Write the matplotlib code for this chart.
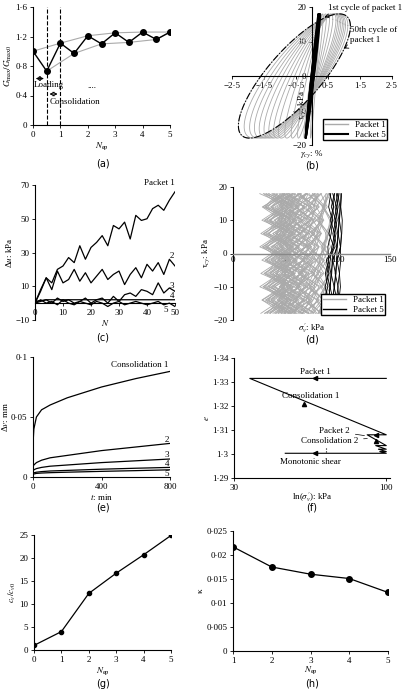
import numpy as np
import matplotlib.pyplot as plt
from matplotlib.ticker import FuncFormatter, FixedLocator, NullLocator

plt.rcParams['font.family'] = ['Liberation Serif', 'DejaVu Serif']
plt.rcParams['font.size'] = 6.5
plt.rcParams['mathtext.fontset'] = 'stix'

# (a) stiffness ratio
a_nep = [0, 0.5, 1, 1.5, 2, 2.5, 3, 3.5, 4, 4.5, 5]
a_g = [1.0, 0.73, 1.11, 0.97, 1.21, 1.10, 1.25, 1.12, 1.26, 1.16, 1.26]
a_up_n = [0, 1, 2, 3, 4, 5]
a_up = [1.0, 1.11, 1.21, 1.25, 1.26, 1.26]
a_lo_n = [0.5, 1.5, 2.5, 3.5, 4.5, 5]
a_lo = [0.73, 0.97, 1.10, 1.12, 1.16, 1.26]

# (b) loop parameters per cycle: centre strain, half width, phase
b1_c = [0.10, 0.05, 0.0, -0.05, -0.1, -0.15, -0.2, -0.25, -0.3, -0.35, -0.4, -0.45, -0.5, -0.55]
b1_a = [0.15, 0.3, 0.45, 0.6, 0.75, 0.9, 1.0, 1.1, 1.2, 1.3, 1.4, 1.5, 1.62, 1.75]
b1_p = [0.25, 0.3, 0.34, 0.38, 0.42, 0.45, 0.48, 0.51, 0.54, 0.56, 0.58, 0.6, 0.62, 0.64]
b5_c = [0.0, 0.01, 0.02, 0.03]
b5_a = [0.2, 0.21, 0.22, 0.23]
b5_p = [0.12, 0.14, 0.16, 0.18]

# (c) excess pore pressure
c_n = [0, 2, 4, 6, 8, 10, 12, 14, 16, 18, 20, 22, 24, 26, 28, 30, 32, 34, 36, 38, 40, 42, 44, 46, 48, 50]
c_p1 = [0, 8, 15, 12, 20, 22, 27, 24, 34, 26, 33, 36, 40, 34, 46, 44, 48, 38, 52, 49, 50, 56, 58, 55, 61, 66]
c_p2 = [0, 7, 15, 8, 19, 12, 14, 20, 13, 18, 12, 16, 20, 14, 17, 19, 11, 17, 21, 15, 23, 19, 24, 17, 26, 22]
c_p3 = [0, 1, 2, 0, 3, 1, 2, 0, 1, 3, 0, 2, 3, 0, 4, 1, 5, 6, 4, 8, 7, 5, 12, 6, 9, 7]
c_p4 = [1, 1.5, 2, 2, 2, 2, 2, 2, 2, 2, 2, 2, 2, 2, 2, 2, 2, 2, 2, 2, 2, 2, 2, 2, 2, 2]
c_p5 = [0, 2, 0, 1, -1, 2, 0, -1, 1, 0, -1, 1, 0, -2, 0, 1, -1, 0, 1, 0, -1, 0, 1, -1, 0, -2]

# (d) per cycle mean effective stress and spread
d1_s = [90, 86, 82, 79, 76, 73, 70, 67, 65, 62, 60, 58, 56, 54, 52, 50, 48, 46, 45, 44, 43, 42, 41, 40]
d1_w = [8, 10, 12, 14, 16, 18, 20, 20, 22, 22, 24, 24, 24, 24, 24, 24, 24, 24, 24, 24, 24, 24, 24, 24]
d5_s = [104, 103, 102, 101, 100, 99, 98, 97, 96, 95, 94]
d5_w = [4, 5, 6, 6, 7, 8, 8, 9, 9, 10, 10]
d_tau = [-18, -14, -10, -6, -2, 2, 6, 10, 14, 18]
d_off = [0.3, -0.5, 0.4, -0.2, 0.6, -0.6, 0.2, 0.5, -0.4, 0.1]

# (e) volume change during consolidation
e_t = [0, 1, 5, 20, 50, 100, 200, 400, 600, 800]
e_c1 = [0, 0.03, 0.04, 0.05, 0.056, 0.06, 0.066, 0.075, 0.082, 0.088]
e_c2 = [0, 0.009, 0.01, 0.012, 0.014, 0.016, 0.018, 0.022, 0.025, 0.028]
e_c3 = [0, 0.005, 0.006, 0.007, 0.008, 0.009, 0.010, 0.012, 0.0135, 0.015]
e_c4 = [0, 0.003, 0.0035, 0.004, 0.0045, 0.005, 0.0055, 0.0065, 0.0073, 0.008]
e_c5 = [0, 0.002, 0.0025, 0.003, 0.0033, 0.0036, 0.004, 0.0047, 0.0053, 0.006]

# (f) void ratio path
f_s = [100, 34, 100, 86, 100, 92, 100, 94, 100, 95, 100, 45]
f_e = [1.3315, 1.3315, 1.308, 1.308, 1.3035, 1.3035, 1.302, 1.302, 1.301, 1.301, 1.3003, 1.3003]

# (g), (h)
g_n = [0, 1, 2, 3, 4, 5]
g_cv = [1, 4, 12.3, 16.7, 20.7, 24.9]
h_n = [1, 2, 3, 4, 5]
h_k = [0.0217, 0.0175, 0.016, 0.0151, 0.0122]

W, H = 403, 694
fig = plt.figure(figsize=(W / 100, H / 100), dpi=100)


def box(l, r, t, b):
    return fig.add_axes([l / W, 1 - b / H, (r - l) / W, (b - t) / H])


def dot(v, p):
    return ('%g' % v).replace('.', '·').replace('-', '−')


fmt = FuncFormatter(dot)


def style(ax):
    for s in ['top', 'right']:
        ax.spines[s].set_visible(False)
    ax.tick_params(length=2, width=0.6, pad=2)
    ax.xaxis.set_major_formatter(fmt)
    ax.yaxis.set_major_formatter(fmt)


def loop(ax, c, a, p, col, lw, ls='-'):
    t = np.linspace(0, 2 * np.pi, 120)
    ax.plot(c + a * np.cos(t), 18 * np.cos(t - p), color=col, lw=lw, ls=ls)


# (a)
ax = box(33, 170, 7, 125)
style(ax)
ax.plot(a_up_n, a_up, color='#aaaaaa', lw=0.8)
ax.plot(a_lo_n, a_lo, color='#aaaaaa', lw=0.8)
ax.plot(a_nep, a_g, 'k-o', ms=4, lw=1)
ax.axvline(0.5, color='k', ls='--', lw=0.8)
ax.axvline(1, color='k', ls='--', lw=0.8)
ax.annotate('', (0, 0.63), (0.5, 0.63), arrowprops=dict(arrowstyle='<->', lw=0.7))
ax.annotate('', (0.5, 0.42), (1, 0.42), arrowprops=dict(arrowstyle='<->', lw=0.7))
ax.text(0.03, 0.52, 'Loading', fontsize=6.5)
ax.text(0.6, 0.28, 'Consolidation', fontsize=6.5)
ax.text(2, 0.5, '....', fontsize=6.5)
ax.set_xlim(0, 5)
ax.set_ylim(0, 1.6)
ax.set_xticks([0, 1, 2, 3, 4, 5])
ax.set_yticks([0, 0.4, 0.8, 1.2, 1.6])
ax.set_xlabel('$N_{\\rm ep}$', labelpad=1)
ax.set_ylabel('$G_{\\rm max}/G_{\\rm max0}$', labelpad=1)

# (b)
ax = box(232, 392, 7, 145)
style(ax)
ax.spines['left'].set_position(('data', 0))
ax.spines['bottom'].set_position(('data', 0))
for c, a, p in zip(b1_c, b1_a, b1_p):
    loop(ax, c, a, p, '#aaaaaa', 0.6)
loop(ax, b1_c[-1], b1_a[-1], b1_p[-1], 'k', 0.8, '-.')
for c, a, p in zip(b5_c, b5_a, b5_p):
    loop(ax, c, a, p, 'k', 1.2)
ax.plot([], [], color='#aaaaaa', lw=1, label='Packet 1')
ax.plot([], [], color='k', lw=1.5, label='Packet 5')
ax.legend(loc='lower right', fontsize=6.5, handlelength=2.5, borderpad=0.2, labelspacing=0.1,
          fancybox=False, edgecolor='k', framealpha=1)
ax.annotate('1st cycle of packet 1', (0.3, 17), (0.5, 19), fontsize=6.5,
            arrowprops=dict(arrowstyle='->', lw=0.6))
ax.annotate('50th cycle of\npacket 1', (1.0, 8), (1.2, 10), fontsize=6.5,
            arrowprops=dict(arrowstyle='->', lw=0.6))
ax.set_xlim(-2.5, 2.5)
ax.set_ylim(-20, 20)
ax.set_xticks([-2.5, -1.5, -0.5, 0.5, 1.5, 2.5])
ax.set_yticks([-20, -10, 0, 10, 20])
ax.text(-0.3, -4, 'τ$_{cy}$: kPa', rotation=90, fontsize=6.5, ha='center', va='top')
ax.text(0, -21, '$\\gamma_{cy}$: %', ha='center', va='top', fontsize=6.5)

# (c)
ax = box(35, 175, 185, 320)
style(ax)
ax.spines['bottom'].set_position(('data', 0))
for y in [c_p1, c_p2, c_p3, c_p4, c_p5]:
    ax.plot(c_n, y, color='k', lw=0.9)
ax.text(50, 69, 'Packet 1', ha='right', va='bottom', fontsize=6.5)
ax.text(48, 27, '2', fontsize=6.5)
ax.text(48, 9, '3', fontsize=6.5)
ax.text(48, 3, '4', fontsize=6.5)
ax.text(46, -5, '5', fontsize=6.5)
ax.set_xlim(0, 50)
ax.set_ylim(-10, 70)
ax.set_xticks([0, 10, 20, 30, 40, 50])
ax.set_yticks([-10, 10, 30, 50, 70])
ax.set_xlabel('$N$', labelpad=1)
ax.set_ylabel('Δ$u$: kPa', labelpad=1)

# (d)
ax = box(233, 390, 187, 320)
style(ax)
ax.spines['bottom'].set_position(('data', 0))
ax.spines['bottom'].set_color('#888888')
ax.spines['bottom'].set_linewidth(1)
for i, (s, w) in enumerate(zip(d1_s, d1_w)):
    for k in (0, 3, 7):
        off = d_off[(i + k) % 10:] + d_off[:(i + k) % 10]
        ax.plot([s + w * o for o in off], d_tau, color='#aaaaaa', lw=0.6)
for i, (s, w) in enumerate(zip(d5_s, d5_w)):
    off = d_off[i % 10:] + d_off[:i % 10]
    ax.plot([s + w * 0.4 * o - w * (0.5 if t < 0 else 0.1) for o, t in zip(off, d_tau)], d_tau,
            color='k', lw=0.6)
ax.plot([], [], color='#aaaaaa', lw=1, label='Packet 1')
ax.plot([], [], color='k', lw=1, label='Packet 5')
ax.legend(loc='lower right', fontsize=6.5, handlelength=2.5, borderpad=0.2, labelspacing=0.1,
          fancybox=False, edgecolor='k', framealpha=1)
ax.set_xlim(0, 150)
ax.set_ylim(-20, 20)
ax.set_xticks([0, 50, 100, 150])
ax.set_yticks([-20, -10, 0, 10, 20])
ax.tick_params(axis='x', length=0)
ax.text(75, -20.3, "$\\sigma_v'$: kPa", ha='center', va='top', fontsize=6.5)
ax.set_ylabel("τ$_{cy}$: kPa", labelpad=1)

# (e)
ax = box(33, 170, 357, 477)
style(ax)
for y in [e_c1, e_c2, e_c3, e_c4, e_c5]:
    ax.plot(e_t, y, color='k', lw=0.9)
ax.text(790, 0.09, 'Consolidation 1', ha='right', va='bottom', fontsize=6.5)
ax.text(770, 0.029, '2', fontsize=6.5)
ax.text(770, 0.017, '3', fontsize=6.5)
ax.text(770, 0.0095, '4', fontsize=6.5)
ax.text(770, 0.0005, '5', fontsize=6.5)
ax.set_xlim(0, 800)
ax.set_ylim(0, 0.1)
ax.set_xticks([0, 400, 800])
ax.set_yticks([0, 0.05, 0.1])
ax.set_xlabel('$t$: min', labelpad=1)
ax.set_ylabel('Δ$v$: mm', labelpad=1)

# (f)
ax = box(234, 390, 358, 478)
style(ax)
ax.set_xscale('log')
ax.plot(f_s, f_e, color='k', lw=0.8)
ax.plot([57], [1.3315], 'k<', ms=3)
ax.plot([52], [1.3207], 'k^', ms=3)
ax.plot([92], [1.308], 'k<', ms=3)
ax.plot([92], [1.3055], 'k^', ms=3)
ax.plot([57], [1.3003], 'k<', ms=3)
ax.plot([62, 62], [1.3007, 1.3025], 'k:', lw=0.8)
ax.text(57, 1.3325, 'Packet 1', ha='center', va='bottom', fontsize=6.5)
ax.text(55, 1.3225, 'Consolidation 1', ha='center', va='bottom', fontsize=6.5)
ax.annotate('Packet 2', (86, 1.3075), (75, 1.3095), ha='right', va='center', fontsize=6.5,
            arrowprops=dict(arrowstyle='-', lw=0.5))
ax.annotate('Consolidation 2', (88, 1.3065), (80, 1.3055), ha='right', va='center', fontsize=6.5,
            arrowprops=dict(arrowstyle='-', lw=0.5))
ax.text(55, 1.2985, 'Monotonic shear', ha='center', va='top', fontsize=6.5)
ax.set_xlim(30, 103)
ax.set_ylim(1.29, 1.34)
ax.xaxis.set_major_locator(FixedLocator([30, 100]))
ax.xaxis.set_minor_locator(NullLocator())
ax.xaxis.set_major_formatter(fmt)
ax.set_yticks([1.29, 1.3, 1.31, 1.32, 1.33, 1.34])
ax.set_xlabel("ln($\\sigma_v'$): kPa", labelpad=1)
ax.xaxis.set_label_coords(0.5, -0.1)
ax.set_ylabel('$e$', labelpad=1)

# (g)
ax = box(34, 171, 535, 650)
style(ax)
ax.plot(g_n, g_cv, 'k-o', ms=3, lw=0.9)
ax.set_xlim(0, 5)
ax.set_ylim(0, 25)
ax.set_xticks(g_n)
ax.set_yticks([0, 5, 10, 15, 20, 25])
ax.set_xlabel('$N_{\\rm ep}$', labelpad=1)
ax.set_ylabel('$c_v/c_{v0}$', labelpad=1)

# (h)
ax = box(233, 388, 531, 651)
style(ax)
ax.plot(h_n, h_k, 'k-o', ms=4, lw=0.9)
ax.set_xlim(1, 5)
ax.set_ylim(0, 0.025)
ax.set_xticks(h_n)
ax.set_yticks([0, 0.005, 0.01, 0.015, 0.02, 0.025])
ax.set_xlabel('$N_{\\rm ep}$', labelpad=0)
ax.set_ylabel('κ', labelpad=1)

for lab, x, y in [('(a)', 103, 164), ('(b)', 312, 166), ('(c)', 103, 338), ('(d)', 312, 340),
                  ('(e)', 103, 508), ('(f)', 312, 508), ('(g)', 103, 684), ('(h)', 312, 684)]:
    fig.text(x / W, 1 - y / H, lab, ha='center', va='center', family='DejaVu Sans', fontsize=7)

fig.savefig('out.png', dpi=100)
